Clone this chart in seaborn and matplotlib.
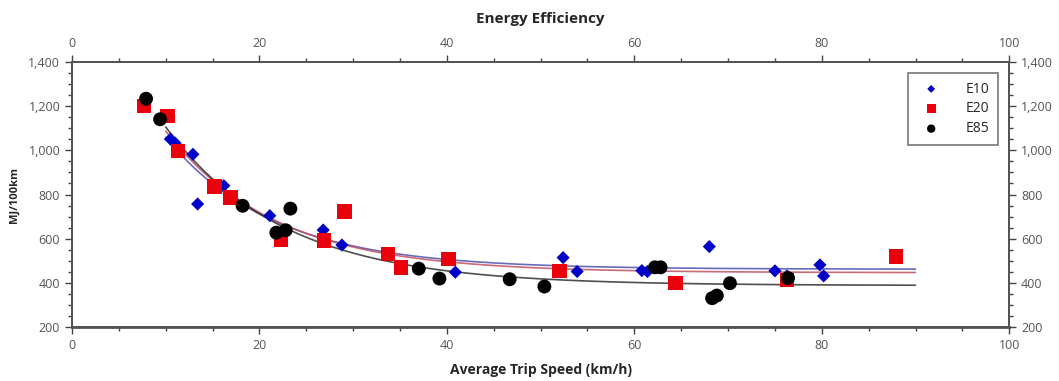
import numpy as np
import pandas as pd
import seaborn as sns
import matplotlib.pyplot as plt
from matplotlib.ticker import MultipleLocator, StrMethodFormatter

# E10 measurements (speed km/h, MJ/100km)
e10_speed = [10.5, 11.0, 12.9, 13.4, 16.2, 17.0, 21.1, 26.8, 28.8, 40.9,
             52.4, 53.9, 60.8, 61.4, 68.0, 75.0, 76.3, 79.8, 80.2]
e10_energy = [1051, 1033, 982, 757, 840, 790, 704, 639, 571, 448,
              514, 451, 455, 451, 564, 454, 431, 481, 431]

# E20 measurements
e20_speed = [7.7, 10.2, 11.3, 15.2, 16.9, 22.3, 26.9, 29.1, 33.7, 35.1,
             40.2, 52.0, 64.4, 76.3, 87.9]
e20_energy = [1201, 1155, 997, 835, 787, 597, 591, 722, 531, 470,
              507, 454, 398, 413, 518]

# E85 measurements
e85_speed = [7.9, 9.4, 18.2, 21.8, 22.8, 23.3, 37.0, 39.2, 46.7, 50.4,
             62.2, 62.8, 68.3, 68.8, 70.2, 76.4]
e85_energy = [1234, 1141, 749, 627, 638, 736, 464, 419, 416, 383,
              470, 470, 330, 342, 398, 421]

fuels = ['E10', 'E20', 'E85']
colors = {'E10': '#0000c8', 'E20': '#e8000b', 'E85': '#000000'}
line_colors = {'E10': '#5050b0', 'E20': '#c05060', 'E85': '#303030'}
markers = {'E10': 'D', 'E20': 's', 'E85': 'o'}
sizes = {'E10': 45, 'E20': 110, 'E85': 100}

df = pd.concat([
    pd.DataFrame({'speed': e10_speed, 'energy': e10_energy, 'fuel': 'E10'}),
    pd.DataFrame({'speed': e20_speed, 'energy': e20_energy, 'fuel': 'E20'}),
    pd.DataFrame({'speed': e85_speed, 'energy': e85_energy, 'fuel': 'E85'}),
])


def fit_decay(x, y):
    # y = a + b*exp(-x/t), grid over t with linear least squares
    x = np.asarray(x, float)
    y = np.asarray(y, float)
    best = None
    for t in np.linspace(3, 40, 371):
        A = np.column_stack([np.ones_like(x), np.exp(-x / t)])
        coef, res, *_ = np.linalg.lstsq(A, y, rcond=None)
        sse = np.sum((A @ coef - y) ** 2)
        if best is None or sse < best[0]:
            best = (sse, coef, t)
    return best[1], best[2]


sns.set_style('white')
plt.rcParams['font.family'] = ['Open Sans', 'DejaVu Sans']

fig = plt.figure(figsize=(10.59, 3.81), dpi=100)
ax = fig.add_axes([0.068, 0.142, 0.885, 0.695])

xs = np.linspace(10, 90, 200)
for fuel in fuels:
    sub = df[df.fuel == fuel]
    coef, t = fit_decay(sub.speed, sub.energy)
    ax.plot(xs, coef[0] + coef[1] * np.exp(-xs / t),
            color=line_colors[fuel], lw=1.2, alpha=0.85, zorder=2)

for fuel in fuels:
    sns.scatterplot(
        data=df[df.fuel == fuel],
        x='speed',
        y='energy',
        color=colors[fuel],
        marker=markers[fuel],
        s=sizes[fuel],
        edgecolor='none',
        label=fuel,
        zorder=3,
        ax=ax
    )

ax.set_xlim(0, 100)
ax.set_ylim(200, 1400)
ax.xaxis.set_major_locator(MultipleLocator(20))
ax.xaxis.set_minor_locator(MultipleLocator(5))
ax.yaxis.set_major_locator(MultipleLocator(200))
ax.yaxis.set_minor_locator(MultipleLocator(50))
ax.yaxis.set_major_formatter(StrMethodFormatter('{x:,.0f}'))

tick_color = '#555555'
ax.set_xlabel('Average Trip Speed (km/h)', fontsize=10, fontweight='bold', labelpad=8)
ax.set_ylabel('MJ/100km', fontsize=8, fontweight='bold', labelpad=6)

top = ax.twiny()
top.set_xlim(0, 100)
top.xaxis.set_major_locator(MultipleLocator(20))
top.xaxis.set_minor_locator(MultipleLocator(5))
top.set_title('Energy Efficiency', fontsize=11, fontweight='bold', pad=10)

right = ax.twinx()
right.set_ylim(200, 1400)
right.yaxis.set_major_locator(MultipleLocator(200))
right.yaxis.set_minor_locator(MultipleLocator(50))
right.yaxis.set_major_formatter(StrMethodFormatter('{x:,.0f}'))

for a in (ax, top, right):
    a.tick_params(which='major', direction='out', length=5, width=1,
                  color='#444444', labelcolor=tick_color, labelsize=9)
    a.tick_params(which='minor', direction='out', length=3, width=1,
                  color='#444444')
    for sp in a.spines.values():
        sp.set_color('#555555')
        sp.set_linewidth(1.2)
ax.spines['bottom'].set_linewidth(2)
ax.tick_params(axis='x', which='both', bottom=True)
ax.tick_params(axis='y', which='both', left=True)
top.tick_params(axis='x', which='both', top=True)
right.tick_params(axis='y', which='both', right=True)

leg = ax.legend(loc='upper right', bbox_to_anchor=(0.988, 0.958), frameon=True,
                fontsize=10, handletextpad=1.4, borderpad=0.6, labelspacing=0.35,
                borderaxespad=0, fancybox=False, markerscale=0.6,
                handlelength=2.2)
leg.get_frame().set_edgecolor('#555555')
leg.get_frame().set_linewidth(1.2)

fig.savefig('out.png', dpi=100)
